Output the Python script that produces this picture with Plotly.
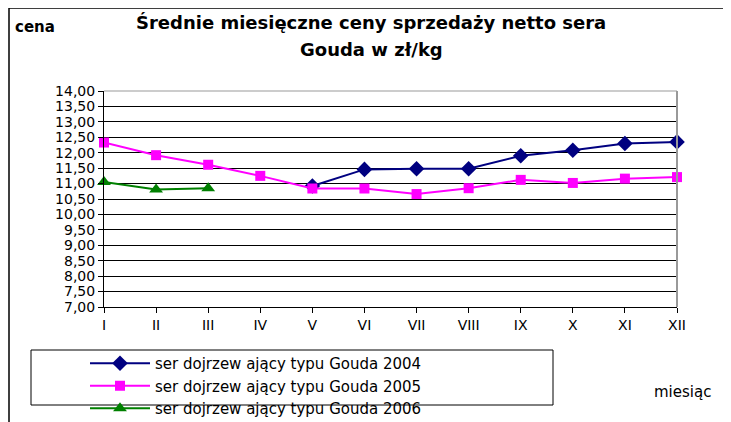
import plotly.graph_objects as go

months = ["I", "II", "III", "IV", "V", "VI", "VII", "VIII", "IX", "X", "XI", "XII"]
y2004 = [None, None, None, None, 10.92, 11.46, 11.48, 11.48, 11.90, 12.08, 12.30, 12.35]
y2005 = [12.33, 11.92, 11.61, 11.25, 10.84, 10.84, 10.66, 10.85, 11.12, 11.02, 11.16, 11.21]
y2006 = [11.05, 10.81, 10.85]
names = ["ser dojrzew ający typu Gouda 2004", "ser dojrzew ający typu Gouda 2005", "ser dojrzew ający typu Gouda 2006"]
y_ticks = [7 + 0.5 * i for i in range(15)]

FONT = "DejaVu Sans, Verdana, sans-serif"

# page is rendered with an 8px body margin, so the figure is shrunk accordingly
PL, PT, PW, PH = 104, 91, 573, 216  # plot area in page pixels


def px(X):
    return (X - PL) / PW


def py(Y):
    return (PT + PH - Y) / PH


fig = go.Figure()
fig.add_trace(go.Scatter(x=months, y=y2004, name=names[0], mode="lines+markers",
                         line=dict(color="#000080", width=2),
                         marker=dict(symbol="diamond", size=12, color="#000080"),
                         cliponaxis=False))
fig.add_trace(go.Scatter(x=months, y=y2005, name=names[1], mode="lines+markers",
                         line=dict(color="#FF00FF", width=2),
                         marker=dict(symbol="square", size=10, color="#FF00FF"),
                         cliponaxis=False))
fig.add_trace(go.Scatter(x=months[:3], y=y2006, name=names[2], mode="lines+markers",
                         line=dict(color="#008000", width=2),
                         marker=dict(symbol="triangle-up", size=12, color="#008000"),
                         cliponaxis=False))

fig.update_layout(
    width=723, height=414,
    margin=dict(l=96, r=54, t=83, b=115, autoexpand=False),
    paper_bgcolor="white", plot_bgcolor="white",
    separators=", ",
    font=dict(family=FONT, size=14, color="black"),
    showlegend=True,
    legend=dict(x=px(85), y=py(347), xanchor="left", yanchor="top",
                bgcolor="rgba(0,0,0,0)", borderwidth=0,
                font=dict(family=FONT, size=15, color="black"),
                tracegroupgap=0, itemwidth=60),
    xaxis=dict(type="category", categoryorder="array", categoryarray=months,
               range=[0, 11], showgrid=False, showline=True, linecolor="black",
               linewidth=1, ticks="outside", ticklen=5, tickcolor="black",
               tickfont=dict(family=FONT, size=14), zeroline=False, mirror=False),
    yaxis=dict(range=[7, 14], tickvals=y_ticks, tickformat=".2f",
               showgrid=True, gridcolor="black", gridwidth=1,
               showline=True, linecolor="black", linewidth=1,
               ticks="outside", ticklen=5, tickcolor="black",
               tickfont=dict(family=FONT, size=14), zeroline=False),
    shapes=[
        dict(type="rect", xref="paper", yref="paper", x0=px(9), x1=px(727),
             y0=py(440), y1=py(8),
             line=dict(color="black", width=1.5), fillcolor="rgba(0,0,0,0)", layer="below"),
        dict(type="line", xref="paper", yref="paper", x0=1, x1=1, y0=0, y1=1,
             line=dict(color="#999999", width=2)),
        dict(type="line", xref="paper", yref="paper", x0=0, x1=1, y0=1, y1=1,
             line=dict(color="#999999", width=1)),
        dict(type="rect", xref="paper", yref="paper", x0=px(31), x1=px(553),
             y0=py(350), y1=py(405),
             line=dict(color="black", width=1), fillcolor="rgba(0,0,0,0)"),
    ],
    annotations=[
        dict(text="<b>Średnie miesięczne ceny sprzedaży netto sera</b>", xref="paper", yref="paper",
             x=px(371), y=py(22), xanchor="center", yanchor="middle",
             showarrow=False, font=dict(family=FONT, size=18)),
        dict(text="<b>Gouda w zł/kg</b>", xref="paper", yref="paper",
             x=px(371), y=py(49), xanchor="center", yanchor="middle",
             showarrow=False, font=dict(family=FONT, size=18)),
        dict(text="<b>cena</b>", xref="paper", yref="paper",
             x=px(13), y=py(27), xanchor="left", yanchor="middle",
             showarrow=False, font=dict(family=FONT, size=15)),
        dict(text="miesiąc", xref="paper", yref="paper",
             x=px(713), y=py(392), xanchor="right", yanchor="middle",
             showarrow=False, font=dict(family=FONT, size=15)),
    ],
)

fig.write_html("out.html")
